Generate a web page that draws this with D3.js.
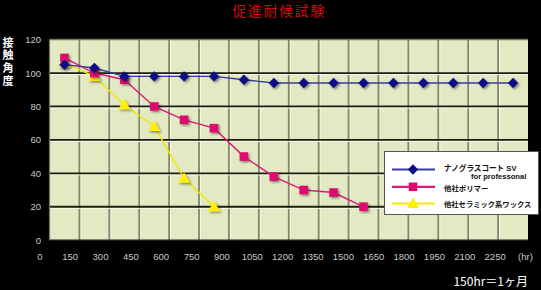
<!DOCTYPE html>
<html><head><meta charset="utf-8">
<script src="https://cdn.jsdelivr.net/npm/d3@7/dist/d3.min.js"></script>
<style>
html,body{margin:0;padding:0;background:#000;}
svg{display:block;}
</style></head>
<body>
<svg id="c" width="541" height="290"></svg>
<script>
const categories = [150,300,450,600,750,900,1050,1200,1350,1500,1650,1800,1950,2100,2250,2400];
const seriesNames = ["ナノグラスコート SV","他社ポリマー","他社セラミック系ワックス"];
const nanoValues = [105,103,98,98,98,98,96,94,94,94,94,94,94,94,94,94];
const polymerValues = [109,100,96,80,72,67,50,38,30,28.5,20];
const waxValues = [106,98,81,68,37,20];
const xTickValues = [0,150,300,450,600,750,900,1050,1200,1350,1500,1650,1800,1950,2100,2250,2400];
const xTickLabels = ["0","150","300","450","600","750","900","1050","1200","1350","1500","1650","1800","1950","2100","2250","(hr)"];
const yTickValues = [0,20,40,60,80,100,120];

const svg = d3.select("#c");
svg.append("rect").attr("width",541).attr("height",290).attr("fill","#000");

const defs = svg.append("defs");
const f = defs.append("filter").attr("id","sh").attr("x","-50%").attr("y","-50%").attr("width","200%").attr("height","200%");
f.append("feDropShadow").attr("dx",1.5).attr("dy",1.5).attr("stdDeviation",0.9).attr("flood-color","#000").attr("flood-opacity",0.45);

const x = d3.scaleBand().domain(categories).range([49.5,528]).paddingInner(0).paddingOuter(0);
const xl = d3.scaleLinear().domain([0,2400]).range([39.3,525]);
const y = d3.scaleLinear().domain([0,120]).range([240.2,39.6]);

// title
svg.append("text").attr("x",279).attr("y",16.3).attr("text-anchor","middle")
  .attr("fill","#d10a0a").attr("font-family","'Noto Sans CJK JP'").attr("font-size",14)
  .attr("letter-spacing",1.6)
  .text("促進耐候試験");

// plot background
svg.append("rect").attr("x",x.range()[0]).attr("y",y(120)).attr("width",x.range()[1]-x.range()[0])
  .attr("height",y(0)-y(120)).attr("fill","#e3eac3");

const g = svg.append("g");
categories.forEach((c,i)=>{
  if(i===0) return;
  const xx = x(c);
  g.append("line").attr("x1",xx+1.5).attr("x2",xx+1.5).attr("y1",y(120)).attr("y2",y(0)).attr("stroke","#f7f8e6").attr("stroke-width",1);
  g.append("line").attr("x1",xx).attr("x2",xx).attr("y1",y(120)).attr("y2",y(0)).attr("stroke","#85856c").attr("stroke-width",1.8);
});
yTickValues.forEach(v=>{
  if(v===0||v===120) return;
  const yy = y(v);
  g.append("line").attr("x1",x.range()[0]).attr("x2",x.range()[1]).attr("y1",yy+1.6).attr("y2",yy+1.6).attr("stroke","#f7f8e6").attr("stroke-width",1);
  g.append("line").attr("x1",x.range()[0]).attr("x2",x.range()[1]).attr("y1",yy).attr("y2",yy).attr("stroke","#1e1e14").attr("stroke-width",1.8);
});
g.append("line").attr("x1",x.range()[0]).attr("x2",x.range()[1]).attr("y1",y(120)).attr("y2",y(120)).attr("stroke","#77775f").attr("stroke-width",1.5);
g.append("line").attr("x1",x.range()[0]).attr("x2",x.range()[1]).attr("y1",y(0)).attr("y2",y(0)).attr("stroke","#1e1e14").attr("stroke-width",1.5);
g.append("line").attr("x1",x.range()[0]).attr("x2",x.range()[0]).attr("y1",y(120)).attr("y2",y(0)).attr("stroke","#77775f").attr("stroke-width",1.2);

const yAxis = d3.axisLeft(y).tickValues(yTickValues).tickSize(0).tickPadding(0);
const ya = svg.append("g").attr("transform","translate(41,0)").call(yAxis);
ya.select(".domain").remove();
ya.selectAll("text").attr("fill","#c8c8c8").attr("font-family","'Liberation Sans',Arial").attr("font-size",9.5);

const xAxis = d3.axisBottom(xl).tickValues(xTickValues).tickSize(0).tickPadding(0)
  .tickFormat((d,i)=>xTickLabels[i]);
const xa = svg.append("g").attr("transform","translate(0,253)").call(xAxis);
xa.select(".domain").remove();
xa.selectAll("text").attr("fill","#c8c8c8").attr("font-family","'Liberation Sans',Arial").attr("font-size",9.5);

svg.append("text").attr("x",8).attr("y",37)
  .style("writing-mode","vertical-rl")
  .attr("letter-spacing",1.7)
  .attr("fill","#fff").attr("font-family","'Noto Sans CJK JP'").attr("font-weight","bold").attr("font-size",11)
  .text("接触角度");

svg.append("text").attr("x",528).attr("y",286).attr("text-anchor","end")
  .attr("fill","#fff").attr("font-family","'Noto Sans CJK JP'").attr("font-size",12).text("150hr＝1ヶ月");

const cx = (i)=>x(categories[i])+x.bandwidth()/2;
const line = d3.line().x((d,i)=>cx(i)).y(d=>y(d));
const series = [
  {vals:nanoValues, line:"#3a3a9e", fill:"#0d0d86", shape:"diamond"},
  {vals:polymerValues, line:"#dc1a78", fill:"#dc0a6e", shape:"square"},
  {vals:waxValues, line:"#f2e600", fill:"#fff000", shape:"triangle"}
];
function marker(sel, shape, fill){
  if(shape==="diamond") sel.append("path").attr("d","M0,-5.2L5.2,0L0,5.2L-5.2,0Z").attr("fill",fill);
  else if(shape==="square") sel.append("rect").attr("x",-4.3).attr("y",-4.3).attr("width",8.6).attr("height",8.6).attr("fill",fill);
  else sel.append("path").attr("d","M0,-6L6,4.5L-6,4.5Z").attr("fill",fill);
}
const drawOrder = [2,1,0];
drawOrder.forEach(k=>{
  const s = series[k];
  svg.append("path").datum(s.vals).attr("d",line).attr("fill","none").attr("stroke",s.line).attr("stroke-width",1.4);
});
drawOrder.forEach(k=>{
  const s = series[k];
  s.vals.forEach((v,i)=>{
    const m = svg.append("g").attr("transform",`translate(${cx(i)},${y(v)})`).attr("filter","url(#sh)");
    marker(m, s.shape, s.fill);
  });
});

const lg = svg.append("g");
lg.append("rect").attr("x",384.5).attr("y",151.5).attr("width",154).attr("height",63).attr("fill","#fff").attr("stroke","#555").attr("stroke-width",1);
const rows = [169.5,186.8,203.5];
series.forEach((s,k)=>{
  lg.append("line").attr("x1",392).attr("x2",435).attr("y1",rows[k]).attr("y2",rows[k]).attr("stroke",s.line).attr("stroke-width",2.2);
  const m = lg.append("g").attr("transform",`translate(413,${rows[k]})`);
  marker(m, s.shape, s.fill);
});
const lstyle = t=>t.attr("fill","#111").attr("font-weight","bold");
lstyle(lg.append("text")).attr("x",444).attr("y",170.5).attr("font-size",7.6)
  .attr("font-family","'Liberation Sans','Noto Sans CJK JP'").text(seriesNames[0]);
lstyle(lg.append("text")).attr("x",471).attr("y",179.2).attr("font-size",7.6)
  .attr("font-family","'Liberation Sans',Arial").text("for professonal");
lstyle(lg.append("text")).attr("x",444).attr("y",190.5).attr("font-size",7.4)
  .attr("font-family","'Noto Sans CJK JP'").text(seriesNames[1]);
lstyle(lg.append("text")).attr("x",444).attr("y",206.5).attr("font-size",7.3)
  .attr("font-family","'Noto Sans CJK JP'").text(seriesNames[2]);
</script>
</body></html>
